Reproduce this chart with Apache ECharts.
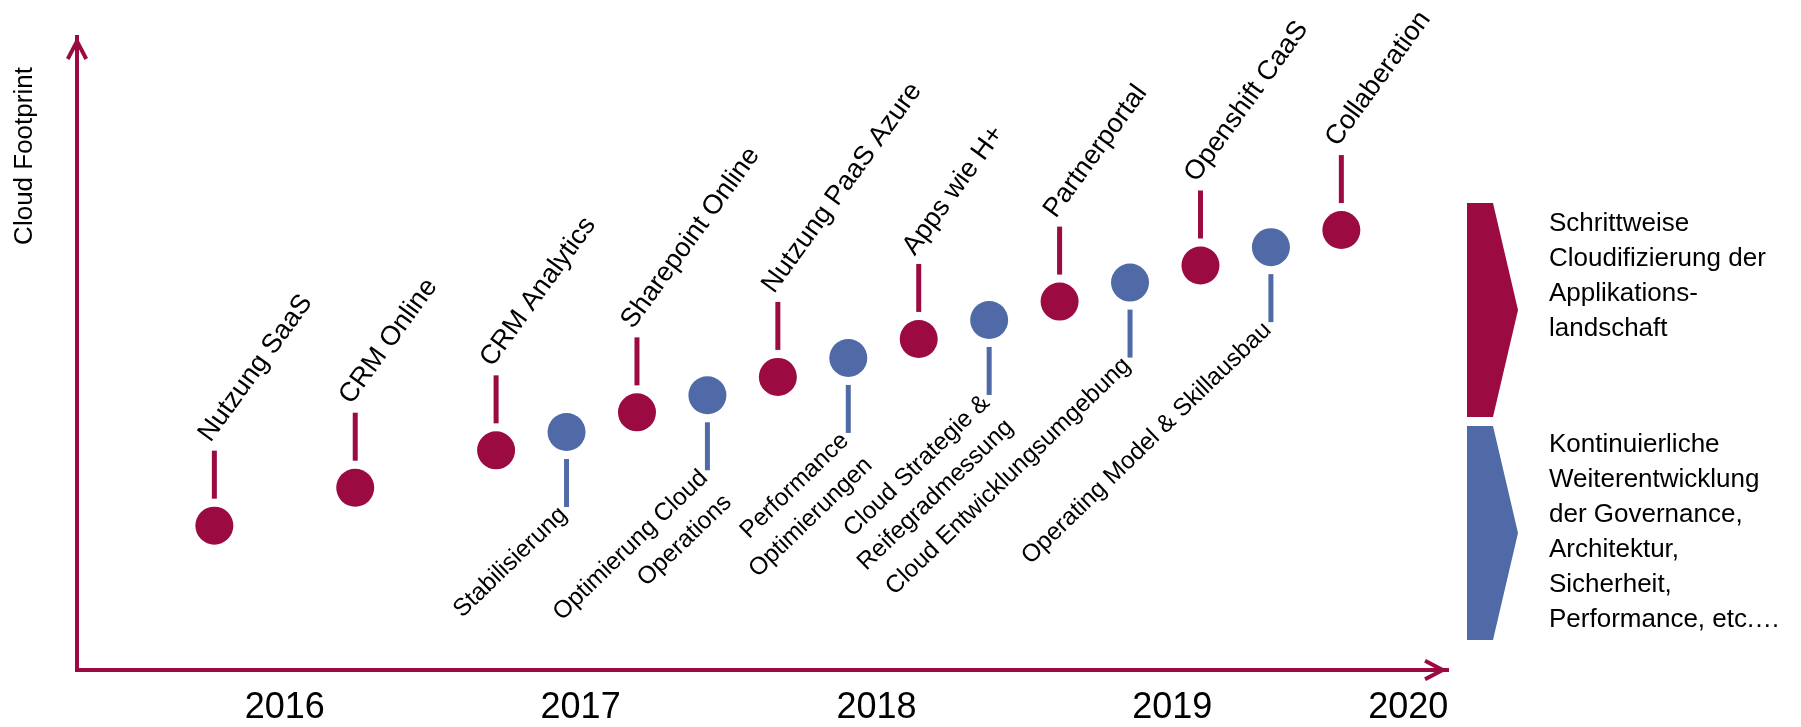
<!DOCTYPE html>
<html>
<head>
<meta charset="utf-8">
<title>Cloud Footprint</title>
<script src="https://cdn.jsdelivr.net/npm/echarts@6.0.0/dist/echarts.min.js"></script>
<style>
	html, body { margin: 0; padding: 0; background: #fff; }
	#chart { width: 1801px; height: 727px; }
</style>
</head>
<body>
<div id="chart"></div>
<script>
	// 红色：应用上云的里程碑
	const redEvents = ['Nutzung SaaS', 'CRM Online', 'CRM Analytics', 'Sharepoint Online', 'Nutzung PaaS Azure', 'Apps wie H+', 'Partnerportal', 'Openshift CaaS', 'Collaberation']
	const redSlots = [0, 2, 4, 6, 8, 10, 12, 14, 16]
	const redFootprint = [22.8, 28.8, 34.7, 40.7, 46.3, 52.3, 58.2, 63.9, 69.5]

	// 蓝色：治理 / 架构的里程碑
	const blueEvents = ['Stabilisierung', 'Optimierung Cloud\nOperations', 'Performance\nOptimierungen', 'Cloud Strategie &\nReifegradmessung', 'Cloud Entwicklungsumgebung', 'Operating Model & Skillausbau']
	const blueSlots = [5, 7, 9, 11, 13, 15]
	const blueFootprint = [37.6, 43.4, 49.3, 55.3, 61.2, 66.8]

	// x轴年份
	const yearLabels = ['2016', '2017', '2018', '2019', '2020']
	const yearSlots = [1, 5.2, 9.4, 13.6, 16.95]

	// 右侧说明
	const legendTexts = [
		'Schrittweise\nCloudifizierung der\nApplikations-\nlandschaft',
		'Kontinuierliche\nWeiterentwicklung\nder Governance,\nArchitektur,\nSicherheit,\nPerformance, etc.…'
	]

	const RED = '#9b0a41'
	const BLUE = '#4f6aa6'
	const FONT = 'Liberation Sans, Arial, Helvetica, sans-serif'

	// 箭头（开口的V形），尖端朝上
	const chevron = 'path://M11,0 L22,21 L18.5,22.9 L11,8.6 L3.5,22.9 L0,21 Z'

	/**
	 * 生成里程碑的renderItem
	 * up=true 标签在上方（红），否则在下方（蓝）
	 */
	function milestone(names, color, up, fontSize, angle) {
		return function (params, api) {
			const p = api.coord([api.value(0), api.value(1)])
			const dir = up ? -1 : 1
			const stemEnd = p[1] + dir * 75
			const text = up
				? {
					type: 'text', x: p[0] + 1, y: stemEnd - 4, rotation: angle * Math.PI / 180,
					style: { text: names[params.dataIndex], align: 'left', verticalAlign: 'bottom', font: fontSize + 'px ' + FONT, fill: '#000' }
				}
				: {
					type: 'text', x: p[0] - 15, y: stemEnd - 8, rotation: angle * Math.PI / 180,
					style: { text: names[params.dataIndex], align: 'right', verticalAlign: 'top', font: fontSize + 'px ' + FONT, lineHeight: 34, fill: '#000' }
				}
			return {
				type: 'group',
				children: [
					{ type: 'line', shape: { x1: p[0], y1: p[1] + dir * 27, x2: p[0], y2: stemEnd }, style: { stroke: color, lineWidth: 5 } },
					{ type: 'circle', shape: { cx: p[0], cy: p[1], r: 19 }, style: { fill: color } },
					text
				]
			}
		}
	}

	// 按数值找年份
	function yearOf(value) {
		let best = 0
		yearSlots.forEach((s, i) => {
			if (Math.abs(s - value) < Math.abs(yearSlots[best] - value)) {
				best = i
			}
		})
		return yearLabels[best]
	}

	const chart = echarts.init(document.getElementById('chart'))

	const axisLine = {
		show: true,
		onZero: false,
		symbol: ['none', chevron],
		symbolSize: [22, 22.9],
		symbolOffset: [0, -11.45],
		lineStyle: { color: RED, width: 4, cap: 'square' }
	}

	chart.setOption({
		animation: false,
		grid: { left: 77, right: 354, top: 37, bottom: 57 },
		xAxis: {
			type: 'value',
			min: -1.95,
			max: 17.5,
			axisLine: axisLine,
			axisTick: { show: false },
			splitLine: { show: false },
			axisLabel: {
				show: true,
				customValues: yearSlots,
				formatter: (value) => yearOf(value),
				showMinLabel: true,
				showMaxLabel: true,
				fontSize: 36,
				fontFamily: FONT,
				color: '#000',
				margin: 20
			}
		},
		yAxis: {
			type: 'value',
			min: 0,
			max: 100,
			axisLine: axisLine,
			axisTick: { show: false },
			axisLabel: { show: false },
			splitLine: { show: false }
		},
		series: [
			{
				name: 'Applikationen',
				type: 'custom',
				renderItem: milestone(redEvents, RED, true, 27, 54),
				data: redSlots.map((s, i) => [s, redFootprint[i]])
			},
			{
				name: 'Governance',
				type: 'custom',
				renderItem: milestone(blueEvents, BLUE, false, 24.5, 44),
				data: blueSlots.map((s, i) => [s, blueFootprint[i]])
			}
		],
		graphic: [
			{
				type: 'text', x: 25, y: 156, rotation: Math.PI / 2,
				style: { text: 'Cloud Footprint', font: '26px ' + FONT, fill: '#000', align: 'center', verticalAlign: 'middle' }
			},
			{
				type: 'polygon',
				shape: { points: [[1467, 203], [1493, 203], [1518, 310], [1493, 417], [1467, 417]] },
				style: { fill: RED }
			},
			{
				type: 'polygon',
				shape: { points: [[1467, 426], [1493, 426], [1518, 533], [1493, 640], [1467, 640]] },
				style: { fill: BLUE }
			},
			{
				type: 'text', x: 1549, y: 206,
				style: { text: legendTexts[0], font: '26px ' + FONT, lineHeight: 35, fill: '#000', verticalAlign: 'top' }
			},
			{
				type: 'text', x: 1549, y: 427,
				style: { text: legendTexts[1], font: '26px ' + FONT, lineHeight: 35, fill: '#000', verticalAlign: 'top' }
			}
		]
	})
</script>
</body>
</html>
